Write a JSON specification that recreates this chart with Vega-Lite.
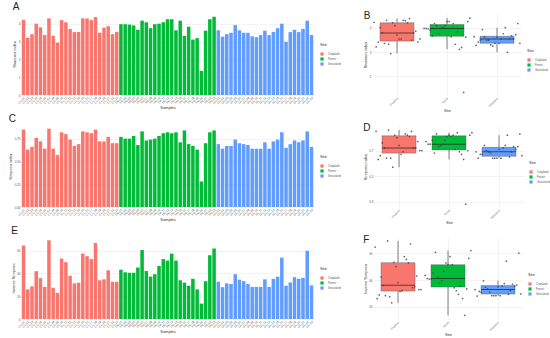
{
"$schema": "https://vega.github.io/schema/vega-lite/v6.json",
"padding": {"left": 8, "top": 2, "right": 0, "bottom": 0},
"background": "white",
"config": {
 "font": "Liberation Sans",
 "view": {"stroke": null},
 "axis": {"labelFontSize": 3, "titleFontSize": 4, "titleFontWeight": "normal", "domain": false, "ticks": false, "gridColor": "#e6e6e6", "gridWidth": 0.5, "labelColor": "#555", "titleColor": "#333", "labelPadding": 1, "titlePadding": 1.5},
 "legend": {"titleFontSize": 4, "labelFontSize": 2.8, "symbolSize": 10, "symbolType": "square", "titleFontWeight": "normal", "rowPadding": 1, "padding": 0, "symbolStrokeWidth": 0, "labelColor": "#555", "titleColor": "#333"},
 "title": {"fontSize": 10, "fontWeight": "normal", "anchor": "start", "frame": "bounds", "offset": 1, "color": "#222"},
 "concat": {"spacing": 22}
},
"data": {"name": "alpha"},
"datasets": {"alpha": [
{"s":"CL-01","n":1,"site":"Cropland","sh":4.22,"si":0.85,"inv":64.5},
{"s":"CL-02","n":2,"site":"Cropland","sh":3.21,"si":0.63,"inv":26.0},
{"s":"CL-03","n":3,"site":"Cropland","sh":3.41,"si":0.66,"inv":28.7},
{"s":"CL-04","n":4,"site":"Cropland","sh":4.0,"si":0.76,"inv":42.0},
{"s":"CL-05","n":5,"site":"Cropland","sh":3.80,"si":0.72,"inv":35.9},
{"s":"CL-06","n":6,"site":"Cropland","sh":3.36,"si":0.64,"inv":28.2},
{"s":"CL-07","n":7,"site":"Cropland","sh":4.30,"si":0.86,"inv":69.1},
{"s":"CL-08","n":8,"site":"Cropland","sh":3.32,"si":0.64,"inv":27.4},
{"s":"CL-09","n":9,"site":"Cropland","sh":2.94,"si":0.57,"inv":22.8},
{"s":"CL-10","n":10,"site":"Cropland","sh":4.20,"si":0.82,"inv":53.1},
{"s":"CL-11","n":11,"site":"Cropland","sh":4.08,"si":0.80,"inv":49.9},
{"s":"CL-12","n":12,"site":"Cropland","sh":3.70,"si":0.74,"inv":38.0},
{"s":"CL-13","n":13,"site":"Cropland","sh":3.53,"si":0.67,"inv":31.3},
{"s":"CL-14","n":14,"site":"Cropland","sh":3.54,"si":0.69,"inv":31.9},
{"s":"CL-15","n":15,"site":"Cropland","sh":4.30,"si":0.83,"inv":57.4},
{"s":"CL-16","n":16,"site":"Cropland","sh":4.29,"si":0.82,"inv":55.2},
{"s":"CL-17","n":17,"site":"Cropland","sh":4.20,"si":0.81,"inv":52.6},
{"s":"CL-18","n":18,"site":"Cropland","sh":4.37,"si":0.85,"inv":66.7},
{"s":"CL-19","n":19,"site":"Cropland","sh":3.49,"si":0.72,"inv":34.0},
{"s":"CL-20","n":20,"site":"Cropland","sh":3.78,"si":0.72,"inv":34.8},
{"s":"CL-21","n":21,"site":"Cropland","sh":3.86,"si":0.77,"inv":42.8},
{"s":"CL-22","n":22,"site":"Cropland","sh":3.41,"si":0.70,"inv":32.7},
{"s":"CL-23","n":23,"site":"Cropland","sh":3.54,"si":0.70,"inv":32.7},
{"s":"FR-01","n":1,"site":"Forest","sh":3.97,"si":0.77,"inv":43.3},
{"s":"FR-02","n":2,"site":"Forest","sh":3.97,"si":0.75,"inv":41.0},
{"s":"FR-03","n":3,"site":"Forest","sh":3.95,"si":0.75,"inv":40.6},
{"s":"FR-04","n":4,"site":"Forest","sh":3.90,"si":0.78,"inv":40.6},
{"s":"FR-05","n":5,"site":"Forest","sh":3.66,"si":0.68,"inv":45.2},
{"s":"FR-06","n":6,"site":"Forest","sh":4.17,"si":0.83,"inv":60.6},
{"s":"FR-07","n":7,"site":"Forest","sh":4.08,"si":0.73,"inv":42.2},
{"s":"FR-08","n":8,"site":"Forest","sh":3.75,"si":0.74,"inv":37.2},
{"s":"FR-09","n":9,"site":"Forest","sh":3.97,"si":0.75,"inv":39.3},
{"s":"FR-10","n":10,"site":"Forest","sh":4.0,"si":0.78,"inv":46.5},
{"s":"FR-11","n":11,"site":"Forest","sh":4.08,"si":0.81,"inv":52.6},
{"s":"FR-12","n":12,"site":"Forest","sh":4.25,"si":0.82,"inv":51.3},
{"s":"FR-13","n":13,"site":"Forest","sh":4.25,"si":0.81,"inv":57.4},
{"s":"FR-14","n":14,"site":"Forest","sh":3.63,"si":0.82,"inv":51.3},
{"s":"FR-15","n":15,"site":"Forest","sh":4.17,"si":0.71,"inv":34.0},
{"s":"FR-16","n":16,"site":"Forest","sh":3.32,"si":0.84,"inv":31.9},
{"s":"FR-17","n":17,"site":"Forest","sh":3.83,"si":0.69,"inv":29.2},
{"s":"FR-18","n":18,"site":"Forest","sh":3.11,"si":0.67,"inv":35.3},
{"s":"FR-19","n":19,"site":"Forest","sh":3.19,"si":0.63,"inv":26.0},
{"s":"FR-20","n":20,"site":"Forest","sh":1.35,"si":0.28,"inv":13.5},
{"s":"FR-21","n":21,"site":"Forest","sh":3.61,"si":0.70,"inv":33.2},
{"s":"FR-22","n":22,"site":"Forest","sh":4.25,"si":0.82,"inv":56.0},
{"s":"FR-23","n":23,"site":"Forest","sh":4.39,"si":0.84,"inv":61.9},
{"s":"GL-01","n":1,"site":"Grassland","sh":3.63,"si":0.69,"inv":32.7},
{"s":"GL-02","n":2,"site":"Grassland","sh":3.27,"si":0.64,"inv":27.9},
{"s":"GL-03","n":3,"site":"Grassland","sh":3.41,"si":0.67,"inv":31.3},
{"s":"GL-04","n":4,"site":"Grassland","sh":3.49,"si":0.67,"inv":30.8},
{"s":"GL-05","n":5,"site":"Grassland","sh":3.92,"si":0.74,"inv":39.3},
{"s":"GL-06","n":6,"site":"Grassland","sh":3.63,"si":0.70,"inv":34.5},
{"s":"GL-07","n":7,"site":"Grassland","sh":3.49,"si":0.69,"inv":33.2},
{"s":"GL-08","n":8,"site":"Grassland","sh":3.49,"si":0.68,"inv":30.8},
{"s":"GL-09","n":9,"site":"Grassland","sh":3.29,"si":0.64,"inv":28.2},
{"s":"GL-10","n":10,"site":"Grassland","sh":3.24,"si":0.64,"inv":28.2},
{"s":"GL-11","n":11,"site":"Grassland","sh":3.36,"si":0.64,"inv":28.2},
{"s":"GL-12","n":12,"site":"Grassland","sh":3.61,"si":0.71,"inv":34.8},
{"s":"GL-13","n":13,"site":"Grassland","sh":3.36,"si":0.64,"inv":28.2},
{"s":"GL-14","n":14,"site":"Grassland","sh":3.54,"si":0.72,"inv":35.3},
{"s":"GL-15","n":15,"site":"Grassland","sh":3.75,"si":0.74,"inv":37.2},
{"s":"GL-16","n":16,"site":"Grassland","sh":4.0,"si":0.82,"inv":53.9},
{"s":"GL-17","n":17,"site":"Grassland","sh":2.99,"si":0.65,"inv":29.2},
{"s":"GL-18","n":18,"site":"Grassland","sh":3.53,"si":0.69,"inv":32.1},
{"s":"GL-19","n":19,"site":"Grassland","sh":3.66,"si":0.73,"inv":36.7},
{"s":"GL-20","n":20,"site":"Grassland","sh":3.53,"si":0.71,"inv":35.3},
{"s":"GL-21","n":21,"site":"Grassland","sh":3.71,"si":0.73,"inv":36.1},
{"s":"GL-22","n":22,"site":"Grassland","sh":4.17,"si":0.83,"inv":60.0},
{"s":"GL-23","n":23,"site":"Grassland","sh":3.36,"si":0.66,"inv":29.5}
]},
"vconcat": [
 {"hconcat": [
  {"width": 293, "height": 82, "title": "A",
   "mark": {"type": "bar", "width": 3.5},
   "encoding": {
    "x": {"field": "s", "type": "ordinal", "scale": {"type": "band", "paddingInner": 0.2, "paddingOuter": 0.2}, "axis": {"title": "Samples", "labelAngle": -45, "grid": false}},
    "y": {"field": "sh", "type": "quantitative", "scale": {"domain": [0, 4.6], "nice": false}, "axis": {"title": "Shannon index", "values": [0, 1, 2, 3, 4]}},
    "color": {"field": "site", "type": "nominal", "scale": {"domain": ["Cropland", "Forest", "Grassland"], "range": ["#F8766D", "#00BA38", "#619CFF"]}, "legend": {"title": "Site", "orient": "none", "legendX": 299, "legendY": 30}}
   }},
  {"width": 150, "height": 83, "title": {"text": "B", "offset": -8},
   "layer": [
    {"mark": {"type": "boxplot", "extent": 1.5, "size": 34, "median": {"color": "#222", "strokeWidth": 1}, "rule": {"strokeWidth": 0.5}, "box": {"stroke": "#555", "strokeWidth": 0.4}, "outliers": false, "ticks": false},
     "encoding": {
      "x": {"field": "site", "type": "nominal", "axis": {"title": "Site", "labelAngle": -45, "grid": true, "bandPosition": 0.5, "labelFontSize": 2.6}},
      "y": {"field": "sh", "type": "quantitative", "scale": {"domain": [1.2, 4.6], "nice": false}, "axis": {"title": "Shannon index", "values": [2, 3, 4]}},
      "color": {"field": "site", "type": "nominal", "scale": {"domain": ["Cropland", "Forest", "Grassland"], "range": ["#F8766D", "#00BA38", "#619CFF"]}, "legend": {"title": "Site", "orient": "none", "legendX": 155, "legendY": 36}}
     }},
    {"mark": {"type": "circle", "size": 3, "color": "#444", "opacity": 0.8},
     "encoding": {
      "x": {"field": "site", "type": "nominal"},
      "xOffset": {"field": "n", "type": "ordinal", "scale": {"type": "point", "padding": 8}},
      "y": {"field": "sh", "type": "quantitative"}
     }}
   ]}
 ], "resolve": {"scale": {"x": "independent", "y": "independent", "color": "shared"}, "legend": {"color": "independent"}}},
 {"hconcat": [
  {"width": 293, "height": 82, "title": "C",
   "mark": {"type": "bar", "width": 3.5},
   "encoding": {
    "x": {"field": "s", "type": "ordinal", "scale": {"type": "band", "paddingInner": 0.2, "paddingOuter": 0.2}, "axis": {"title": "Samples", "labelAngle": -45, "grid": false}},
    "y": {"field": "si", "type": "quantitative", "scale": {"domain": [0, 0.9], "nice": false}, "axis": {"title": "Simpson index", "values": [0, 0.25, 0.5, 0.75], "format": ".2f"}},
    "color": {"field": "site", "type": "nominal", "scale": {"domain": ["Cropland", "Forest", "Grassland"], "range": ["#F8766D", "#00BA38", "#619CFF"]}, "legend": {"title": "Site", "orient": "none", "legendX": 299, "legendY": 30}}
   }},
  {"width": 150, "height": 83, "title": {"text": "D", "offset": -8},
   "layer": [
    {"mark": {"type": "boxplot", "extent": 1.5, "size": 34, "median": {"color": "#222", "strokeWidth": 1}, "rule": {"strokeWidth": 0.5}, "box": {"stroke": "#555", "strokeWidth": 0.4}, "outliers": false, "ticks": false},
     "encoding": {
      "x": {"field": "site", "type": "nominal", "axis": {"title": "Site", "labelAngle": -45, "grid": true, "bandPosition": 0.5, "labelFontSize": 2.6}},
      "y": {"field": "si", "type": "quantitative", "scale": {"domain": [0.25, 0.9], "nice": false}, "axis": {"title": "Simpson index", "values": [0.3, 0.4, 0.5, 0.6, 0.7, 0.8], "format": ".1f"}},
      "color": {"field": "site", "type": "nominal", "scale": {"domain": ["Cropland", "Forest", "Grassland"], "range": ["#F8766D", "#00BA38", "#619CFF"]}, "legend": {"title": "Site", "orient": "none", "legendX": 155, "legendY": 36}}
     }},
    {"mark": {"type": "circle", "size": 3, "color": "#444", "opacity": 0.8},
     "encoding": {
      "x": {"field": "site", "type": "nominal"},
      "xOffset": {"field": "n", "type": "ordinal", "scale": {"type": "point", "padding": 8}},
      "y": {"field": "si", "type": "quantitative"}
     }}
   ]}
 ], "resolve": {"scale": {"x": "independent", "y": "independent", "color": "shared"}, "legend": {"color": "independent"}}},
 {"hconcat": [
  {"width": 293, "height": 82, "title": "E",
   "mark": {"type": "bar", "width": 3.5},
   "encoding": {
    "x": {"field": "s", "type": "ordinal", "scale": {"type": "band", "paddingInner": 0.2, "paddingOuter": 0.2}, "axis": {"title": "Samples", "labelAngle": -45, "grid": false}},
    "y": {"field": "inv", "type": "quantitative", "scale": {"domain": [0, 72], "nice": false}, "axis": {"title": "Inverse Simpson", "values": [0, 20, 40, 60]}},
    "color": {"field": "site", "type": "nominal", "scale": {"domain": ["Cropland", "Forest", "Grassland"], "range": ["#F8766D", "#00BA38", "#619CFF"]}, "legend": {"title": "Site", "orient": "none", "legendX": 299, "legendY": 30}}
   }},
  {"width": 150, "height": 83, "title": {"text": "F", "offset": -8},
   "layer": [
    {"mark": {"type": "boxplot", "extent": 1.5, "size": 34, "median": {"color": "#222", "strokeWidth": 1}, "rule": {"strokeWidth": 0.5}, "box": {"stroke": "#555", "strokeWidth": 0.4}, "outliers": false, "ticks": false},
     "encoding": {
      "x": {"field": "site", "type": "nominal", "axis": {"title": "Site", "labelAngle": -45, "grid": true, "bandPosition": 0.5, "labelFontSize": 2.6}},
      "y": {"field": "inv", "type": "quantitative", "scale": {"domain": [10, 72], "nice": false}, "axis": {"title": "Inverse Simpson", "values": [20, 30, 40, 50, 60]}},
      "color": {"field": "site", "type": "nominal", "scale": {"domain": ["Cropland", "Forest", "Grassland"], "range": ["#F8766D", "#00BA38", "#619CFF"]}, "legend": {"title": "Site", "orient": "none", "legendX": 155, "legendY": 36}}
     }},
    {"mark": {"type": "circle", "size": 3, "color": "#444", "opacity": 0.8},
     "encoding": {
      "x": {"field": "site", "type": "nominal"},
      "xOffset": {"field": "n", "type": "ordinal", "scale": {"type": "point", "padding": 8}},
      "y": {"field": "inv", "type": "quantitative"}
     }}
   ]}
 ], "resolve": {"scale": {"x": "independent", "y": "independent", "color": "shared"}, "legend": {"color": "independent"}}}
],
"spacing": 1
}
